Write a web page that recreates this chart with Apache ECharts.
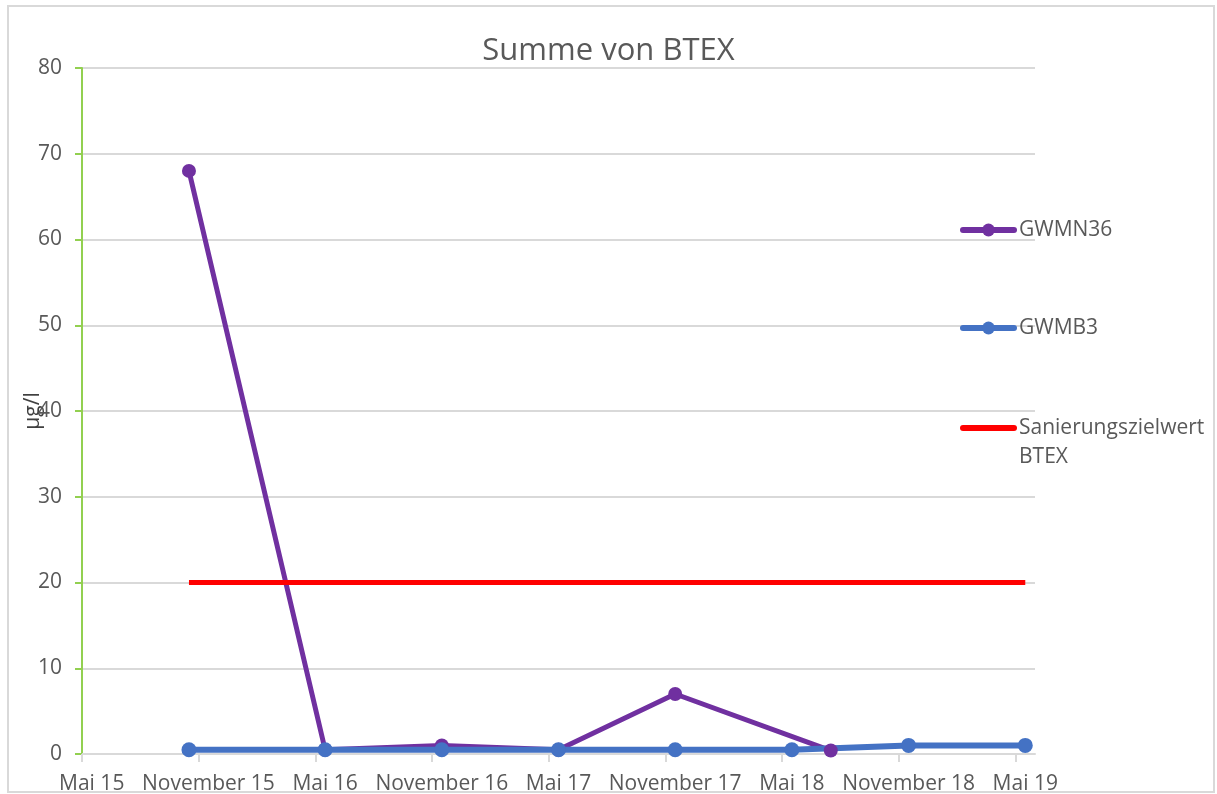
<!DOCTYPE html>
<html>
<head>
<meta charset="utf-8">
<script src="https://cdn.jsdelivr.net/npm/echarts@6/dist/echarts.min.js"></script>
<style>
  html, body { margin: 0; padding: 0; background: #fff; }
  #chart { width: 1217px; height: 794px; }
</style>
</head>
<body>
<div id="chart"></div>
<script>
// Achsenbeschriftung (alle 6 Monate, ab Mai 2015)
var tickLabels = ['Mai 15', 'November 15', 'Mai 16', 'November 16', 'Mai 17',
                  'November 17', 'Mai 18', 'November 18', 'Mai 19'];

// Messwerte GWMN36
var datesN36 = ['2015-10', '2016-05', '2016-11', '2017-05', '2017-11', '2018-07'];
var valuesN36 = [68, 0.5, 1.0, 0.5, 7.0, 0.4];

// Messwerte GWMB3
var datesB3 = ['2015-10', '2016-05', '2016-11', '2017-05', '2017-11', '2018-05', '2018-11', '2019-05'];
var valuesB3 = [0.5, 0.5, 0.5, 0.5, 0.5, 0.5, 1.0, 1.0];

// Sanierungszielwert BTEX
var datesLimit = ['2015-10', '2019-05'];
var valuesLimit = [20, 20];

var FONT = '"Open Sans", "Noto Sans", sans-serif';
var GREY = '#595959';

// Monat -> Position auf der Achse (Monatsmitte, Mai 2015 = 0)
function monthPos(s) {
    var p = s.split('-');
    return (parseInt(p[0], 10) - 2015) * 12 + (parseInt(p[1], 10) - 5) + 0.5;
}
function toPairs(dates, values) {
    return dates.map(function (d, i) { return [monthPos(d), values[i]]; });
}

var tickPos = tickLabels.map(function (l, i) { return i * 6; });
var labelPos = tickLabels.map(function (l, i) { return i * 6 + 0.5; });

var myChart = echarts.init(document.getElementById('chart'));

var legendText = { fontFamily: FONT, fontSize: 21, color: GREY, lineHeight: 29 };

var option = {
    backgroundColor: '#fff',
    animation: false,
    title: {
        text: 'Summe von BTEX',
        left: 'center',
        top: 31,
        textStyle: { fontFamily: FONT, fontSize: 31, fontWeight: 'normal', color: GREY }
    },
    graphic: [{
        type: 'rect',
        shape: { x: 8, y: 6, width: 1206, height: 786 },
        style: { fill: 'none', stroke: '#d9d9d9', lineWidth: 2 },
        silent: true
    }],
    grid: { left: 82, right: 182, top: 68, bottom: 40, outerBoundsMode: 'none', containLabel: false },
    legend: [
        {
            data: ['GWMN36', 'GWMB3'],
            orient: 'vertical',
            left: 960,
            top: 215.5,
            padding: 0,
            itemGap: 69,
            itemWidth: 51,
            itemHeight: 16,
            selectedMode: false,
            lineStyle: { width: 6, cap: 'round' },
            textStyle: legendText
        },
        {
            data: [{ name: 'Sanierungszielwert BTEX', itemStyle: { opacity: 0 } }],
            orient: 'vertical',
            left: 960,
            top: 384.5,
            padding: 0,
            itemWidth: 51,
            itemHeight: 16,
            selectedMode: false,
            lineStyle: { width: 6, cap: 'round' },
            formatter: function () { return '\nSanierungszielwert\nBTEX'; },
            textStyle: legendText
        }
    ],
    xAxis: {
        type: 'value',
        min: 0,
        max: 49,
        axisLine: { lineStyle: { color: '#d9d9d9', width: 2 } },
        axisTick: { customValues: tickPos, length: 8, lineStyle: { color: '#d9d9d9', width: 2 } },
        axisLabel: {
            customValues: labelPos,
            margin: 20,
            fontFamily: FONT,
            fontSize: 21,
            color: GREY,
            formatter: function (v) { return tickLabels[Math.floor(v / 6)] || ''; }
        },
        splitLine: { show: false }
    },
    yAxis: {
        type: 'value',
        min: 0,
        max: 80,
        interval: 10,
        name: 'µg/l',
        nameLocation: 'middle',
        nameRotate: 90,
        nameGap: 38,
        nameMoveOverlap: false,
        nameTextStyle: { fontFamily: FONT, fontSize: 21, color: '#404040' },
        axisLine: { show: true, lineStyle: { color: '#92d050', width: 2 } },
        axisTick: { show: true, length: 7, lineStyle: { color: '#92d050', width: 2 } },
        axisLabel: { margin: 20, fontFamily: FONT, fontSize: 21, color: GREY },
        splitLine: { lineStyle: { color: '#d9d9d9', width: 2 } }
    },
    series: [
        {
            name: 'GWMN36',
            type: 'line',
            data: toPairs(datesN36, valuesN36),
            symbol: 'circle',
            symbolSize: 14,
            itemStyle: { color: '#7030a0' },
            lineStyle: { color: '#7030a0', width: 5, cap: 'round' }
        },
        {
            name: 'GWMB3',
            type: 'line',
            data: toPairs(datesB3, valuesB3),
            symbol: 'circle',
            symbolSize: 15,
            itemStyle: { color: '#4472c4' },
            lineStyle: { color: '#4472c4', width: 6, cap: 'round' }
        },
        {
            name: 'Sanierungszielwert BTEX',
            type: 'line',
            data: toPairs(datesLimit, valuesLimit),
            symbol: 'none',
            itemStyle: { color: '#ff0000' },
            lineStyle: { color: '#ff0000', width: 5 }
        }
    ]
};

myChart.setOption(option);
</script>
</body>
</html>
